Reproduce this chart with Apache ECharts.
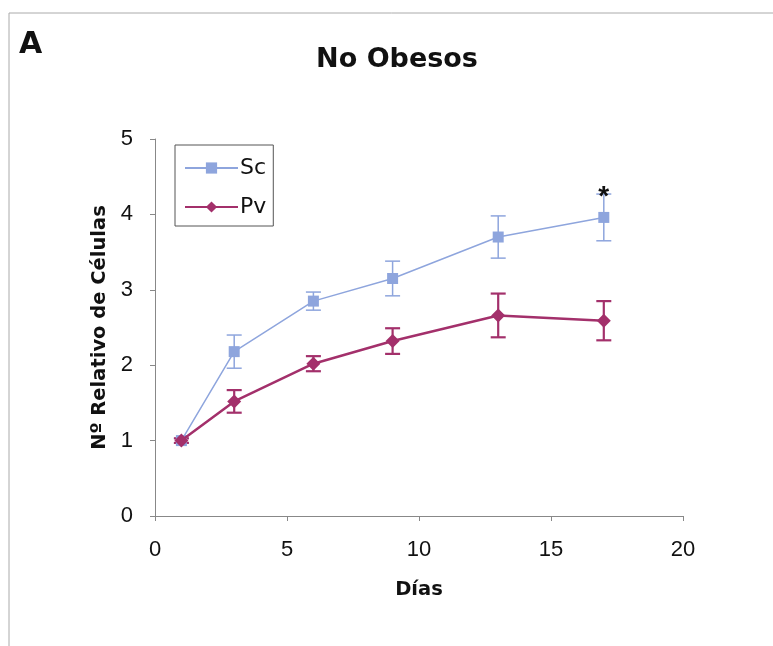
<!DOCTYPE html>
<html><head><meta charset="utf-8">
<script src="https://cdn.jsdelivr.net/npm/echarts@6/dist/echarts.min.js"></script>
<style>html,body{margin:0;padding:0;background:#fff}#c{width:773px;height:646px}</style>
</head><body><div id="c"></div>
<script>
const days = [1, 3, 6, 9, 13, 17];
const scMean = [1.0, 2.18, 2.85, 3.15, 3.70, 3.96];
const scErr  = [0.03, 0.22, 0.12, 0.23, 0.28, 0.31];
const pvMean = [1.0, 1.52, 2.02, 2.32, 2.66, 2.59];
const pvErr  = [0.03, 0.15, 0.10, 0.17, 0.29, 0.26];
const significantDays = [17];
const xTicks = [0, 5, 10, 15, 20];
const yTicks = [0, 1, 2, 3, 4, 5];

const FONT = '"DejaVu Sans", sans-serif';
const NUMFONT = '"Liberation Sans", Arial, sans-serif';
const scColor = '#8ea5dd';
const pvColor = '#a3306b';

function errData(mean, err) {
  return days.map((d, i) => [d, mean[i] - err[i], mean[i] + err[i]]);
}
function errSeries(name, mean, err, color, lw, mark) {
  return {
    type: 'custom', name: name + ' err', silent: true, z: 1,
    data: errData(mean, err),
    renderItem: function (params, api) {
      const x = api.value(0);
      const lo = api.coord([x, api.value(1)]);
      const hi = api.coord([x, api.value(2)]);
      const w = 7.5;
      const st = { stroke: color, lineWidth: lw };
      const children = [
        { type: 'line', shape: { x1: hi[0], y1: hi[1], x2: lo[0], y2: lo[1] }, style: st },
        { type: 'line', shape: { x1: hi[0] - w, y1: hi[1], x2: hi[0] + w, y2: hi[1] }, style: st },
        { type: 'line', shape: { x1: lo[0] - w, y1: lo[1], x2: lo[0] + w, y2: lo[1] }, style: st }
      ];
      if (mark && significantDays.indexOf(x) >= 0) {
        children.push({ type: 'text', x: hi[0], y: hi[1] + 17,
          style: { text: '*', font: 'bold 28px ' + NUMFONT, fill: '#111', align: 'center', verticalAlign: 'bottom' } });
      }
      return { type: 'group', children: children };
    }
  };
}

const chart = echarts.init(document.getElementById('c'));
chart.setOption({
  animation: false,
  backgroundColor: '#fff',
  textStyle: { fontFamily: FONT },
  graphic: [
    { type: 'rect', shape: { x: 9, y: 13, width: 900, height: 800 }, style: { fill: 'none', stroke: '#aaa', lineWidth: 1 }, z: -10 },
    { type: 'text', left: 19, top: 30, style: { text: 'A', font: 'bold 30px ' + FONT, fill: '#111' } }
  ],
  title: {
    text: 'No Obesos', left: 392, top: 41, textAlign: 'center',
    textStyle: { fontFamily: FONT, fontWeight: 'bold', fontSize: 27, color: '#111' }
  },
  legend: {
    data: ['Sc', 'Pv'], orient: 'vertical', left: 175, top: 145,
    itemWidth: 53, itemHeight: 14, itemGap: 17,
    padding: [12, 7, 8, 9],
    borderColor: '#555', borderWidth: 1,
    textStyle: { fontFamily: FONT, fontSize: 22, color: '#111', padding: [0, 0, 0, -3] }
  },
  grid: { left: 155, right: 90, top: 139, bottom: 130, containLabel: false },
  xAxis: {
    type: 'value', min: xTicks[0], max: xTicks[xTicks.length - 1], interval: 5,
    name: 'Días', nameLocation: 'middle', nameGap: 64,
    nameTextStyle: { fontFamily: FONT, fontWeight: 'bold', fontSize: 19.5, color: '#111' },
    axisLine: { lineStyle: { color: '#888' } },
    axisTick: { show: true, inside: false, length: 5, lineStyle: { color: '#888' } },
    axisLabel: { fontFamily: NUMFONT, fontSize: 22, color: '#111', margin: 23 },
    splitLine: { show: false }
  },
  yAxis: {
    type: 'value', min: yTicks[0], max: yTicks[yTicks.length - 1], interval: 1,
    name: 'Nº Relativo de Células', nameLocation: 'middle', nameGap: 42, nameRotate: 90,
    nameTextStyle: { fontFamily: FONT, fontWeight: 'bold', fontSize: 19.5, color: '#111' },
    axisLine: { show: true, lineStyle: { color: '#888' } },
    axisTick: { show: true, inside: false, length: 5, lineStyle: { color: '#888' } },
    axisLabel: { fontFamily: NUMFONT, fontSize: 22, color: '#111', margin: 22 },
    splitLine: { show: false }
  },
  series: [
    errSeries('Sc', scMean, scErr, scColor, 1.5, true),
    errSeries('Pv', pvMean, pvErr, pvColor, 2.2, false),
    {
      name: 'Sc', type: 'line', z: 3,
      data: days.map((d, i) => [d, scMean[i]]),
      symbol: 'rect', symbolSize: 11,
      lineStyle: { color: scColor, width: 1.5 },
      itemStyle: { color: scColor }
    },
    {
      name: 'Pv', type: 'line', z: 4,
      data: days.map((d, i) => [d, pvMean[i]]),
      symbol: 'diamond', symbolSize: 14,
      lineStyle: { color: pvColor, width: 2.5 },
      itemStyle: { color: pvColor }
    }
  ]
});
</script></body></html>
